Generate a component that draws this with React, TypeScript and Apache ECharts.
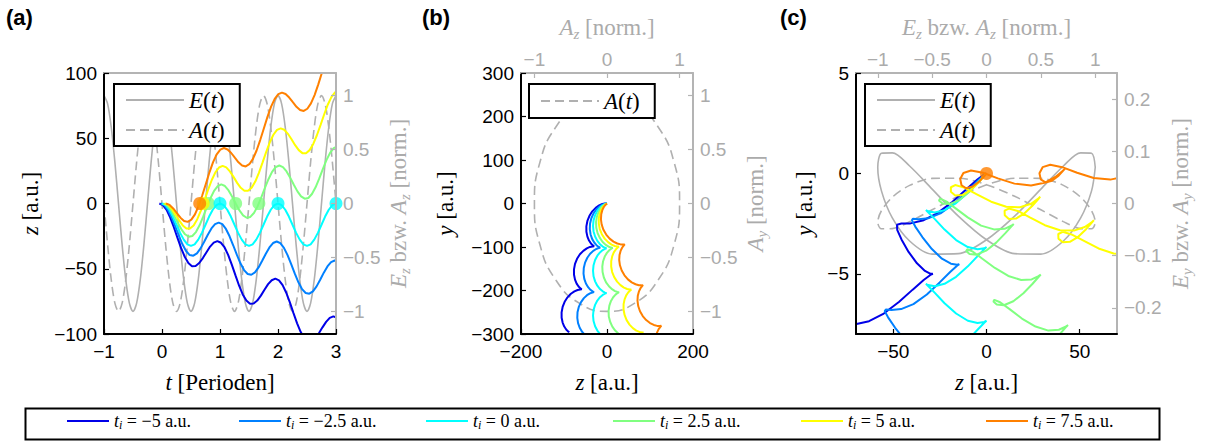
import React, { useEffect, useRef } from 'react';
import * as echarts from 'echarts';

// ---------------- data ----------------
const TI_LABELS = ['−5', '−2.5', '0', '2.5', '5', '7.5'];
const SERIES_NAMES = TI_LABELS.map((l) => 't_i = ' + l + ' a.u.');
// ionisation time t_i expressed in laser periods (shift of the start on the t axis)
const T_OFFSET = [-0.0455, -0.0227, 0, 0.0227, 0.0455, 0.0682];

// time since ionisation [periods]
const TAU = [0,0.0625,0.125,0.1875,0.25,0.3125,0.375,0.4375,0.5,0.5625,0.625,0.6875,0.75,0.8125,0.875,0.9375,
1,1.0625,1.125,1.1875,1.25,1.3125,1.375,1.4375,1.5,1.5625,1.625,1.6875,1.75,1.8125,1.875,1.9375,
2,2.0625,2.125,2.1875,2.25,2.3125,2.375,2.4375,2.5,2.5625,2.625,2.6875,2.75,2.8125,2.875,2.9375,
3,3.0625,3.125,3.1875,3.25,3.3125];

// z(t) [a.u.]
const Z_M5 = [0,-1.2,-4.9,-10.8,-18.2,-26.3,-34.2,-40.8,-45.6,-48.0,-47.9,-45.6,-41.8,-37.3,-33.0,-30.0,
-28.8,-30.1,-33.7,-39.6,-47.0,-55.1,-63.0,-69.7,-74.4,-76.8,-76.7,-74.4,-70.6,-66.1,-61.8,-58.8,
-57.6,-58.9,-62.6,-68.4,-75.8,-84.0,-91.8,-98.5,-103.2,-105.6,-105.5,-103.2,-99.4,-94.9,-90.7,-87.6,
-86.5,-87.7,-91.4,-97.2,-104.7];
const Z_M25 = [0,-1.3,-4.9,-10.5,-17.4,-24.7,-31.3,-36.4,-39.5,-40.0,-38.2,-34.4,-29.3,-23.9,-19.1,-15.8,
-14.6,-15.8,-19.5,-25.1,-32.0,-39.2,-45.8,-51.0,-54.0,-54.6,-52.8,-49.0,-43.9,-38.5,-33.7,-30.3,
-29.1,-30.4,-34.0,-39.6,-46.5,-53.8,-60.4,-65.6,-68.6,-69.1,-67.3,-63.5,-58.4,-53.0,-48.2,-44.9,
-43.7,-44.9,-48.6,-54.2,-61.1];
const Z_0 = [0,-1.2,-4.8,-10.0,-16.3,-22.5,-27.7,-31.3,-32.5,-31.3,-27.7,-22.5,-16.3,-10.0,-4.8,-1.2,
0,-1.2,-4.8,-10.0,-16.3,-22.5,-27.7,-31.3,-32.5,-31.3,-27.7,-22.5,-16.3,-10.0,-4.8,-1.2,
0,-1.2,-4.8,-10.0,-16.3,-22.5,-27.7,-31.3,-32.5,-31.3,-27.7,-22.5,-16.3,-10.0,-4.8,-1.2,
0,-1.2,-4.8,-10.0,-16.3];
const Z_P25 = [0,-1.2,-4.5,-9.3,-14.8,-19.8,-23.6,-25.5,-24.9,-21.9,-16.7,-10.1,-2.9,4.0,9.7,13.3,
14.6,13.4,10.0,5.2,-0.2,-5.3,-9.1,-10.9,-10.3,-7.3,-2.2,4.5,11.7,18.6,24.2,27.9,
29.1,27.9,24.6,19.8,14.4,9.3,5.5,3.7,4.2,7.3,12.4,19.0,26.3,33.2,38.8,42.4,
43.7,42.5,39.2,34.3,28.9];
const Z_P5 = [0,-1.1,-4.2,-8.5,-13.0,-16.8,-19.1,-19.1,-16.8,-12.0,-5.4,2.5,10.6,18.0,23.9,27.6,
28.8,27.7,24.6,20.4,15.8,12.0,9.8,9.7,12.0,16.8,23.5,31.3,39.4,46.9,52.7,56.4,
57.6,56.5,53.4,49.2,44.7,40.9,38.6,38.5,40.9,45.6,52.3,60.1,68.2,75.7,81.5,85.2,
86.5,85.3,82.2,78.0,73.5];
const Z_P75 = [0,-1.1,-3.8,-7.4,-10.9,-13.4,-14.1,-12.4,-8.3,-1.9,6.1,15.0,23.9,31.7,37.6,41.3,
42.5,41.4,38.7,35.1,31.6,29.1,28.4,30.1,34.2,40.6,48.6,57.5,66.4,74.2,80.1,83.8,
85.0,83.9,81.2,77.6,74.1,71.6,70.9,72.6,76.7,83.1,91.1,100.0,108.9,116.7,122.6,126.3,
127.5,126.4,123.7,120.1,116.6,114.1];

// y(t) [a.u.] for panel (b)
const YB_M5 = [0,0.2,0.1,-1.1,-4.3,-10.0,-18.0,-28.3,-40.2,-52.7,-65.0,-76.1,-85.2,-92.0,-96.2,-98.3,-98.8,-98.6,-98.7,-99.9,-103.1,-108.8,-116.8,-127.1,-138.9,-151.5,-163.8,-174.9,-184.1,-190.8,-195.1,-197.1,-197.7,-197.5,-197.5,-198.8,-202.0,-207.5,-215.7,-226.0,-237.8,-250.3,-262.7,-273.7,-282.8,-289.6,-293.9,-295.9,-296.4];
const YB_M25 = [0,0,-0.6,-2.7,-6.9,-13.6,-22.8,-33.9,-46.4,-59.0,-71.2,-81.9,-90.3,-96.4,-100.0,-101.7,-102.0,-102.0,-102.5,-104.6,-108.9,-115.6,-124.7,-135.9,-148.2,-161.0,-173.1,-183.9,-192.3,-198.4,-202.0,-203.5,-203.9,-203.8,-204.5,-206.6,-210.8,-217.5,-226.7,-237.8,-250.2,-263.0,-275.1,-285.7,-294.3,-300.2];
const YB_0 = [0,-0.2,-1.2,-4.1,-9.4,-17.0,-27.0,-38.8,-51.5,-64.2,-76.0,-86.0,-93.6,-98.9,-101.8,-102.8,-103.0,-103.2,-104.2,-107.1,-112.4,-120.0,-130.0,-141.8,-154.5,-167.2,-179.0,-189.0,-196.6,-201.9,-204.8,-205.8,-206.0,-206.2,-207.2,-210.1,-215.4,-223.0,-233.0,-244.8,-257.5,-270.2,-282.0,-292.0,-299.6,-304.9];
const YB_P25 = [0,-0.3,-2.0,-5.6,-11.6,-20.1,-30.8,-42.8,-55.6,-68.1,-79.2,-88.4,-95.1,-99.3,-101.4,-102.0,-102.0,-102.3,-103.9,-107.5,-113.5,-122.1,-132.7,-144.8,-157.6,-170.1,-181.2,-190.2,-196.9,-201.3,-203.3,-203.9,-203.9,-204.2,-205.8,-209.5,-215.5,-224.0,-234.6,-246.8,-259.6,-271.9,-283.0,-292.2,-298.9,-303.1];
const YB_P5 = [0,-0.5,-2.6,-6.9,-13.6,-22.8,-33.9,-46.1,-58.7,-70.6,-80.8,-88.9,-94.5,-97.6,-99.0,-99.0,-98.8,-99.3,-101.4,-105.7,-112.4,-121.5,-132.7,-144.9,-157.5,-169.3,-179.6,-187.7,-193.3,-196.5,-197.8,-197.9,-197.7,-198.2,-200.2,-204.5,-211.3,-220.4,-231.4,-243.7,-256.3,-268.1,-278.4,-286.5,-292.1,-295.3,-296.5,-296.6,-296.4];
const YB_P75 = [0,-0.7,-3.2,-8.0,-15.3,-24.9,-36.3,-48.4,-60.5,-71.5,-80.8,-87.7,-92.0,-94.0,-94.5,-94.0,-93.6,-94.3,-96.8,-101.7,-109.0,-118.6,-129.9,-142.0,-154.1,-165.2,-174.4,-181.3,-185.6,-187.8,-188.2,-187.7,-187.3,-188.0,-190.4,-195.3,-202.6,-212.2,-223.5,-235.7,-247.8,-258.8,-268.0,-274.9,-279.2,-281.4,-281.8,-281.3,-281.0,-281.6,-284.1,-288.9,-296.2,-305.8];

// y(t) [a.u.] for panel (c)
const YC_M5 = [0,-0.05,-0.31,-0.79,-1.41,-1.98,-2.35,-2.49,-2.50,-2.56,-2.81,-3.29,-3.91,-4.48,-4.86,-5.00,-5.00,-5.06,-5.31,-5.79,-6.41,-6.98,-7.36,-7.50,-7.51,-7.56,-7.81,-8.30,-8.91];
const YC_M25 = [0,-0.08,-0.39,-0.91,-1.51,-1.99,-2.24,-2.29,-2.26,-2.34,-2.65,-3.17,-3.77,-4.25,-4.50,-4.55,-4.52,-4.60,-4.91,-5.43,-6.03,-6.51,-6.76,-6.81,-6.78,-6.86,-7.17,-7.69,-8.29,-8.77,-9.02];
const YC_0 = [0,-0.11,-0.45,-0.96,-1.48,-1.83,-1.95,-1.89,-1.83,-1.94,-2.28,-2.80,-3.32,-3.67,-3.78,-3.73,-3.67,-3.77,-4.12,-4.63,-5.15,-5.50,-5.62,-5.56,-5.50,-5.61,-5.95,-6.47,-6.98,-7.34,-7.45,-7.40,-7.34,-7.44,-7.79,-8.30,-8.82];
const YC_P25 = [0,-0.12,-0.47,-0.93,-1.34,-1.53,-1.50,-1.35,-1.26,-1.38,-1.73,-2.19,-2.60,-2.79,-2.76,-2.61,-2.52,-2.64,-2.99,-3.45,-3.85,-4.05,-4.02,-3.87,-3.78,-3.90,-4.25,-4.71,-5.11,-5.31,-5.28,-5.12,-5.04,-5.16,-5.51,-5.97,-6.37,-6.57,-6.53,-6.38,-6.30,-6.42,-6.76,-7.23,-7.63,-7.83,-7.79,-7.64,-7.55,-7.67,-8.02,-8.49,-8.89];
const YC_P5 = [0,-0.12,-0.45,-0.83,-1.08,-1.10,-0.92,-0.69,-0.58,-0.71,-1.03,-1.41,-1.66,-1.69,-1.51,-1.27,-1.16,-1.29,-1.61,-1.99,-2.25,-2.27,-2.09,-1.86,-1.75,-1.87,-2.20,-2.58,-2.83,-2.85,-2.67,-2.44,-2.33,-2.45,-2.78,-3.16,-3.41,-3.43,-3.25,-3.02,-2.91,-3.04,-3.36,-3.74,-3.99,-4.02,-3.84,-3.60,-3.49,-3.62,-3.94,-4.32,-4.58];
const YC_P75 = [0,-0.12,-0.39,-0.65,-0.74,-0.59,-0.28,0.02,0.14,0.03,-0.25,-0.51,-0.60,-0.45,-0.13,0.16,0.28,0.17,-0.11,-0.37,-0.45,-0.30,0.01,0.31,0.43,0.31,0.03,-0.23,-0.31,-0.16,0.15,0.45,0.57];

// return times (z = 0) marked with dots in panel (a) [periods]
const RET_M5: number[] = [];
const RET_M25: number[] = [];
const RET_0 = [1, 2, 3];
const RET_P25 = [0.8, 1.27, 1.67];
const RET_P5 = [0.71];
const RET_P75 = [0.65];
const ORIGIN_DOT_C = [0, 0];

// laser field, panel (a): E_z and A_z (normalised) vs t [periods]
const T_FIELD = [-1,-0.9375,-0.875,-0.8125,-0.75,-0.6875,-0.625,-0.5625,-0.5,-0.4375,-0.375,-0.3125,-0.25,-0.1875,-0.125,-0.0625,
0,0.0625,0.125,0.1875,0.25,0.3125,0.375,0.4375,0.5,0.5625,0.625,0.6875,0.75,0.8125,0.875,0.9375,
1,1.0625,1.125,1.1875,1.25,1.3125,1.375,1.4375,1.5,1.5625,1.625,1.6875,1.75,1.8125,1.875,1.9375,
2,2.0625,2.125,2.1875,2.25,2.3125,2.375,2.4375,2.5,2.5625,2.625,2.6875,2.75,2.8125,2.875,2.9375,3];
const E_FIELD = [1,0.924,0.707,0.383,0,-0.383,-0.707,-0.924,-1,-0.924,-0.707,-0.383,0,0.383,0.707,0.924,
1,0.924,0.707,0.383,0,-0.383,-0.707,-0.924,-1,-0.924,-0.707,-0.383,0,0.383,0.707,0.924,
1,0.924,0.707,0.383,0,-0.383,-0.707,-0.924,-1,-0.924,-0.707,-0.383,0,0.383,0.707,0.924,
1,0.924,0.707,0.383,0,-0.383,-0.707,-0.924,-1,-0.924,-0.707,-0.383,0,0.383,0.707,0.924,1];
const A_FIELD = [0,-0.383,-0.707,-0.924,-1,-0.924,-0.707,-0.383,0,0.383,0.707,0.924,1,0.924,0.707,0.383,
0,-0.383,-0.707,-0.924,-1,-0.924,-0.707,-0.383,0,0.383,0.707,0.924,1,0.924,0.707,0.383,
0,-0.383,-0.707,-0.924,-1,-0.924,-0.707,-0.383,0,0.383,0.707,0.924,1,0.924,0.707,0.383,
0,-0.383,-0.707,-0.924,-1,-0.924,-0.707,-0.383,0,0.383,0.707,0.924,1,0.924,0.707,0.383,0];

// panel (b): A(t) of the circular field (normalised)
const AZ_B = [0,-0.383,-0.707,-0.924,-1,-0.924,-0.707,-0.383,0,0.383,0.707,0.924,1,0.924,0.707,0.383,0];
const AY_B = [1,0.924,0.707,0.383,0,-0.383,-0.707,-0.924,-1,-0.924,-0.707,-0.383,0,0.383,0.707,0.924,1];

// panel (c): E(t) and A(t) of the two-colour field (normalised)
const EZ_C = [1,0.966,0.866,0.707,0.5,0.259,0,-0.259,-0.5,-0.707,-0.866,-0.966,-1,-0.966,-0.866,-0.707,-0.5,-0.259,0,0.259,0.5,0.707,0.866,0.966,1];
const EY_C = [0.0695,0.0961,0.097,0.0719,0.0276,-0.0242,-0.0695,-0.0961,-0.097,-0.0719,-0.0276,0.0242,0.0695,0.0961,0.097,0.0719,0.0276,-0.0242,-0.0695,-0.0961,-0.097,-0.0719,-0.0276,0.0242,0.0695];
const AZ_C = [0,-0.259,-0.5,-0.707,-0.866,-0.966,-1,-0.966,-0.866,-0.707,-0.5,-0.259,0,0.259,0.5,0.707,0.866,0.966,1,0.966,0.866,0.707,0.5,0.259,0];
const AY_C = [0.036,0.0138,-0.0121,-0.0347,-0.0481,-0.0485,-0.036,-0.0138,0.0121,0.0347,0.0481,0.0485,0.036,0.0138,-0.0121,-0.0347,-0.0481,-0.0485,-0.036,-0.0138,0.0121,0.0347,0.0481,0.0485,0.036];

// tick values
const TICKS_A_X = [-1, 0, 1, 2, 3];
const TICKS_A_Y = [-100, -50, 0, 50, 100];
const TICKS_NORM = [-1, -0.5, 0, 0.5, 1];
const TICKS_B_X = [-200, 0, 200];
const TICKS_B_Y = [-300, -200, -100, 0, 100, 200, 300];
const TICKS_B_TOP = [-1, 0, 1];
const TICKS_C_X = [-50, 0, 50];
const TICKS_C_Y = [-5, 0, 5];
const TICKS_C_RIGHT = [-0.2, -0.1, 0, 0.1, 0.2];

// ---------------- styles / layout ----------------
const COLORS = ['#0000e8', '#0080ff', '#00ffff', '#80ff80', '#ffff00', '#ff8000'];
const SANS = '"Liberation Sans", Arial, Helvetica, sans-serif';
const SERIF = '"Liberation Serif", "Times New Roman", serif';
const GRAY_LINE = '#b4b4b4';
const GRAY_TEXT = '#ababab';
const GRAY_CURVE = '#b0b0b0';
const BOTTOM_LEGEND_LEFT = [66, 238, 425, 612, 800, 985];

const Z_ALL = [Z_M5, Z_M25, Z_0, Z_P25, Z_P5, Z_P75];
const YB_ALL = [YB_M5, YB_M25, YB_0, YB_P25, YB_P5, YB_P75];
const YC_ALL = [YC_M5, YC_M25, YC_0, YC_P25, YC_P5, YC_P75];
const RET_ALL = [RET_M5, RET_M25, RET_0, RET_P25, RET_P5, RET_P75];

const fmt = (v: number) => String(Math.round(v * 100) / 100).replace('-', '−');

function rich(color: string, size: number) {
  return {
    i: { fontFamily: SERIF, fontStyle: 'italic', fontSize: size, color, lineHeight: size + 5 },
    s: { fontFamily: SERIF, fontStyle: 'italic', fontSize: Math.round(size * 0.66), color, verticalAlign: 'bottom', lineHeight: size + 5 },
  };
}

function mkAxis(o: any) {
  const lineCol = o.gray ? GRAY_LINE : '#000';
  const txtCol = o.gray ? GRAY_TEXT : '#000';
  const hasTicks = o.ticks && o.ticks.length > 0;
  return {
    type: 'value',
    gridIndex: o.grid,
    position: o.pos,
    min: o.min,
    max: o.max,
    z: 5,
    axisLine: { show: true, onZero: false, lineStyle: { color: lineCol, width: 2 } },
    axisTick: {
      show: hasTicks,
      inside: true,
      length: 5,
      customValues: hasTicks ? o.ticks : undefined,
      lineStyle: { color: lineCol, width: 1.2 },
    },
    axisLabel: {
      show: hasTicks && o.labels !== false,
      customValues: hasTicks ? o.ticks : undefined,
      formatter: fmt,
      fontFamily: SANS,
      fontSize: 19,
      color: txtCol,
      margin: o.margin ?? 7,
    },
    splitLine: { show: false },
    name: o.name,
    nameLocation: 'middle',
    nameGap: o.gap,
    nameRotate: o.rotate,
    nameTextStyle: { fontFamily: SERIF, fontSize: 23, color: txtCol, lineHeight: 28, rich: rich(txtCol, 23) },
  };
}

function lineSeries(name: string, xi: number, yi: number, data: number[][], color: string, width: number, dashed?: boolean, smooth?: number) {
  return {
    type: 'line',
    name,
    xAxisIndex: xi,
    yAxisIndex: yi,
    data,
    symbol: 'none',
    showSymbol: false,
    smooth: smooth ?? false,
    clip: true,
    silent: true,
    z: 3,
    itemStyle: { color },
    lineStyle: { color, width, type: dashed ? [9, 5] : 'solid' },
  };
}

function buildOption() {
  const series: any[] = [];
  // gray field curves
  series.push(lineSeries('E(t)', 0, 1, T_FIELD.map((t, k) => [t, E_FIELD[k]]), GRAY_CURVE, 1.6, false, 0.3));
  series.push(lineSeries('A(t)', 0, 1, T_FIELD.map((t, k) => [t, A_FIELD[k]]), GRAY_CURVE, 1.6, true, 0.3));
  series.push(lineSeries('A(t)', 3, 3, AZ_B.map((z, k) => [z, AY_B[k]]), GRAY_CURVE, 1.6, true, 0.5));
  series.push(lineSeries('E(t)', 5, 5, EZ_C.map((z, k) => [z, EY_C[k]]), GRAY_CURVE, 1.6, false, 0.3));
  series.push(lineSeries('A(t)', 5, 5, AZ_C.map((z, k) => [z, AY_C[k]]), GRAY_CURVE, 1.6, true, 0.3));

  for (let i = 0; i < 6; i++) {
    const z = Z_ALL[i];
    const dA = z.map((v, k) => [TAU[k] + T_OFFSET[i], v]);
    const dB = YB_ALL[i].map((y, k) => [z[k], y]);
    const dC = YC_ALL[i].map((y, k) => [z[k], y]);
    series.push(lineSeries(SERIES_NAMES[i], 0, 0, dA, COLORS[i], 2));
    series.push(lineSeries(SERIES_NAMES[i], 2, 2, dB, COLORS[i], 2));
    series.push(lineSeries(SERIES_NAMES[i], 4, 4, dC, COLORS[i], 2));
  }
  const dotOrder = [3, 2, 4, 5];
  dotOrder.forEach((i) => {
    if (RET_ALL[i].length === 0) return;
    series.push({
      type: 'scatter', name: 'ret' + i, xAxisIndex: 0, yAxisIndex: 0,
      data: RET_ALL[i].map((t) => [t, 0]), symbol: 'circle', symbolSize: 13,
      itemStyle: { color: COLORS[i] }, z: 4, silent: true,
    });
  });
  series.push({
    type: 'scatter', name: 'ret-c', xAxisIndex: 4, yAxisIndex: 4,
    data: [ORIGIN_DOT_C], symbol: 'circle', symbolSize: 13,
    itemStyle: { color: COLORS[5] }, z: 4, silent: true,
  });

  const panelLegend = (data: string[], left: number, pad: number[]) => ({
    data,
    left,
    top: 84,
    orient: 'vertical',
    itemWidth: 58,
    itemHeight: 14,
    itemGap: 2,
    padding: pad,
    borderColor: '#000',
    borderWidth: 2,
    borderRadius: 0,
    backgroundColor: '#fff',
    selectedMode: false,
    z: 10,
    itemStyle: { opacity: 0, borderWidth: 0 },
    textStyle: { fontFamily: SERIF, fontSize: 23, color: '#000', lineHeight: 25, rich: rich('#000', 23) },
    formatter: (n: string) => (n === 'E(t)' ? '{i|E}({i|t})' : '{i|A}({i|t})'),
  });

  const legendBottomRich = {
    i: { fontFamily: SERIF, fontStyle: 'italic', fontSize: 18, color: '#000', lineHeight: 20 },
    s: { fontFamily: SERIF, fontStyle: 'italic', fontSize: 12, color: '#000', verticalAlign: 'bottom', lineHeight: 20 },
  };

  const bottomLegends = SERIES_NAMES.map((n, i) => ({
    data: [n],
    left: BOTTOM_LEGEND_LEFT[i],
    top: 411,
    orient: 'horizontal',
    itemWidth: 42,
    itemHeight: 14,
    padding: 0,
    selectedMode: false,
    z: 10,
    itemStyle: { opacity: 0, borderWidth: 0 },
    textStyle: { fontFamily: SERIF, fontSize: 18, color: '#000', lineHeight: 20, rich: legendBottomRich },
    formatter: () => '{i|t}{s|i} = ' + TI_LABELS[i] + ' a.u.',
  }));

  return {
    animation: false,
    backgroundColor: '#fff',
    title: [
      { text: '(a)', left: 6, top: 6, padding: 0, textStyle: { fontFamily: SANS, fontWeight: 'bold', fontSize: 22, color: '#000' } },
      { text: '(b)', left: 422, top: 6, padding: 0, textStyle: { fontFamily: SANS, fontWeight: 'bold', fontSize: 22, color: '#000' } },
      { text: '(c)', left: 780, top: 6, padding: 0, textStyle: { fontFamily: SANS, fontWeight: 'bold', fontSize: 22, color: '#000' } },
    ],
    graphic: [
      { type: 'rect', left: 23, top: 406, shape: { width: 1134, height: 31 }, style: { fill: 'none', stroke: '#000', lineWidth: 2 }, z: 10, silent: true },
    ],
    grid: [
      { left: 104, top: 73, width: 232, height: 261, containLabel: false, outerBoundsMode: 'none' },
      { left: 521, top: 73, width: 172, height: 261, containLabel: false, outerBoundsMode: 'none' },
      { left: 856, top: 73, width: 261, height: 261, containLabel: false, outerBoundsMode: 'none' },
    ],
    xAxis: [
      mkAxis({ grid: 0, pos: 'bottom', min: -1, max: 3, ticks: TICKS_A_X, name: '{i|t} [Perioden]', gap: 34, margin: 8 }),
      mkAxis({ grid: 0, pos: 'top', min: -1, max: 3, ticks: [], gray: true }),
      mkAxis({ grid: 1, pos: 'bottom', min: -200, max: 200, ticks: TICKS_B_X, name: '{i|z} [a.u.]', gap: 34, margin: 8 }),
      mkAxis({ grid: 1, pos: 'top', min: -1.185, max: 1.185, ticks: TICKS_B_TOP, gray: true, name: '{i|A}{s|z} [norm.]', gap: 32, margin: 4 }),
      mkAxis({ grid: 2, pos: 'bottom', min: -70, max: 70, ticks: TICKS_C_X, name: '{i|z} [a.u.]', gap: 34, margin: 8 }),
      mkAxis({ grid: 2, pos: 'top', min: -1.2, max: 1.2, ticks: TICKS_NORM, gray: true, name: '{i|E}{s|z} bzw. {i|A}{s|z} [norm.]', gap: 32, margin: 4 }),
    ],
    yAxis: [
      mkAxis({ grid: 0, pos: 'left', min: -100, max: 100, ticks: TICKS_A_Y, name: '{i|z} [a.u.]', gap: 60, rotate: 90 }),
      mkAxis({ grid: 0, pos: 'right', min: -1.21, max: 1.21, ticks: TICKS_NORM, gray: true, name: '{i|E}{s|z} bzw. {i|A}{s|z} [norm.]', gap: 39, rotate: 90 }),
      mkAxis({ grid: 1, pos: 'left', min: -300, max: 300, ticks: TICKS_B_Y, name: '{i|y} [a.u.]', gap: 62, rotate: 90 }),
      mkAxis({ grid: 1, pos: 'right', min: -1.21, max: 1.21, ticks: TICKS_NORM, gray: true, name: '{i|A}{s|y} [norm.]', gap: 44, rotate: 90 }),
      mkAxis({ grid: 2, pos: 'left', min: -8, max: 5, ticks: TICKS_C_Y, name: '{i|y} [a.u.]', gap: 38, rotate: 90 }),
      mkAxis({ grid: 2, pos: 'right', min: -0.25, max: 0.25, ticks: TICKS_C_RIGHT, gray: true, name: '{i|E}{s|y} bzw. {i|A}{s|y} [norm.]', gap: 49, rotate: 90 }),
    ],
    legend: [
      ...bottomLegends,
      panelLegend(['E(t)', 'A(t)'], 114, [2, 15, 2, 11]),
      panelLegend(['A(t)'], 529, [3, 15, 3, 11]),
      panelLegend(['E(t)', 'A(t)'], 865, [2, 15, 2, 11]),
    ],
    series,
  };
}

export default function App() {
  const ref = useRef<HTMLDivElement>(null);
  useEffect(() => {
    if (!ref.current) return;
    const chart = echarts.init(ref.current, undefined, { renderer: 'svg' });
    chart.setOption(buildOption() as any);
    return () => chart.dispose();
  }, []);
  return <div ref={ref} style={{ position: 'fixed', left: 0, top: 0, width: 1207, height: 441, background: '#fff' }} />;
}
